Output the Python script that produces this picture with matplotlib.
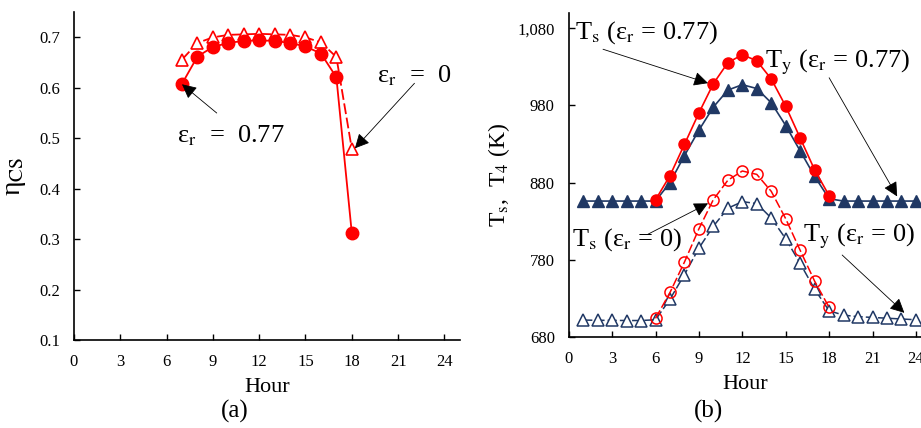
import numpy as np
import matplotlib
matplotlib.use("Agg")
from matplotlib import pyplot as plt
from matplotlib.ticker import FuncFormatter

plt.rcParams['font.family'] = ['Liberation Serif', 'DejaVu Serif']
plt.rcParams['mathtext.fontset'] = 'stix'

RED = '#FF0000'
NAVY = '#203864'

# panel (a): collector efficiency
hours_a = [7, 8, 9, 10, 11, 12, 13, 14, 15, 16, 17, 18]
eta_077 = [0.608, 0.662, 0.681, 0.689, 0.693, 0.694, 0.693, 0.689, 0.682, 0.668, 0.621, 0.312]
eta_0 = [0.656, 0.689, 0.700, 0.705, 0.706, 0.707, 0.706, 0.705, 0.700, 0.690, 0.661, 0.479]

# panel (b): temperatures
hours_s = [6, 7, 8, 9, 10, 11, 12, 13, 14, 15, 16, 17, 18]
Ts_077 = [857.6, 889, 929.6, 970.4, 1008.4, 1035.6, 1045.9, 1038, 1014.4, 979, 937.7, 896.4, 863]
Ts_0 = [703.8, 737.4, 776.9, 820, 858, 883, 895, 890.6, 868.6, 833, 792, 752, 718]
hours_y = list(range(1, 25))
Ty_077 = [856, 856, 856, 856, 856, 856, 880, 915, 948, 978, 1000, 1007, 1002, 983.5, 954,
          921, 888, 859, 856, 856, 856, 856, 856, 856]
Ty_0 = [701.6, 701.3, 701.2, 701, 701, 702, 728.7, 760.6, 795, 823.4, 846.7, 855.3, 852.7,
        834, 807, 775, 741.6, 713.6, 708, 706, 705, 704, 703, 702]

fig = plt.figure(figsize=(9.21, 4.28), dpi=100)
ax1 = fig.add_axes([0.0803, 0.2056, 0.419, 0.766])
ax2 = fig.add_axes([0.6175, 0.2133, 0.3825, 0.7563])

arrow = dict(arrowstyle='-|>', color='black', lw=0.6, mutation_scale=22, shrinkA=0, shrinkB=0)
EPS = 'ε$_\\mathrm{r}$'

# ---- (a)
ax1.plot(hours_a, eta_0, color=RED, ls=(0, (6, 2)), lw=1.3, marker='^', ms=9,
         mfc='white', mec=RED, mew=1.2)
ax1.plot(hours_a, eta_077, color=RED, lw=1.3, marker='o', ms=9, mfc=RED, mec=RED)
ax1.set_xlim(0, 25)
ax1.set_ylim(0.1, 0.75)
ax1.set_xticks(range(0, 25, 3))
ax1.set_yticks([0.1, 0.2, 0.3, 0.4, 0.5, 0.6, 0.7])
ax1.set_ylabel('η$_\\mathrm{CS}$', fontsize=20, labelpad=8)
ax1.set_xlabel('Hour', fontsize=16, labelpad=6)
ax1.text(6.7, 0.506, EPS + '  =  0.77', fontsize=19, ha='left', va='center')
ax1.annotate('', xy=(7.0, 0.607), xytext=(9.25, 0.55), arrowprops=arrow)
ax1.text(19.6, 0.625, EPS + '  =  0', fontsize=19, ha='left', va='center')
ax1.annotate('', xy=(18.2, 0.48), xytext=(22.06, 0.609), arrowprops=arrow)
ax1.text(0.255, 0.012, '(a)', transform=fig.transFigure, fontsize=18, ha='center', va='bottom')

# ---- (b)
ax2.plot(hours_y, Ty_077, color=NAVY, lw=1.2, marker='^', ms=8, mfc=NAVY, mec=NAVY)
ax2.plot(hours_s, Ts_077, color=RED, lw=1.2, marker='o', ms=8, mfc=RED, mec=RED)
ax2.plot(hours_y, Ty_0, color=NAVY, ls=(0, (6, 2)), lw=1.1, marker='^', ms=8,
         mfc='white', mec=NAVY, mew=1.1)
ax2.plot(hours_s, Ts_0, color=RED, ls=(0, (6, 2)), lw=1.1, marker='o', ms=8,
         mfc='none', mec=RED, mew=1.1)
ax2.set_xlim(0, 24.35)
ax2.set_ylim(680, 1100)
ax2.set_xticks(range(0, 25, 3))
ax2.set_yticks([680, 780, 880, 980, 1080])
ax2.yaxis.set_major_formatter(FuncFormatter(lambda v, p: '{:,.0f}'.format(v)))
ax2.set_ylabel('T$_\\mathrm{s}$,  T$_\\mathrm{4}$ (K)', fontsize=17, labelpad=4)
ax2.set_xlabel('Hour', fontsize=16, labelpad=6)

ax2.text(0.4, 1075, 'T$_\\mathrm{s}$ (' + EPS + ' = 0.77)', fontsize=19, ha='left', va='center')
ax2.annotate('', xy=(9.63, 1009), xytext=(2.37, 1053), arrowprops=arrow)
ax2.text(13.6, 1036, 'T$_\\mathrm{y}$ (' + EPS + ' = 0.77)', fontsize=19, ha='left', va='center')
ax2.annotate('', xy=(22.7, 862), xytext=(18.0, 1016), arrowprops=arrow)
ax2.text(0.2, 806, 'T$_\\mathrm{s}$ (' + EPS + ' = 0)', fontsize=19, ha='left', va='center')
ax2.annotate('', xy=(9.63, 853), xytext=(5.48, 813), arrowprops=arrow)
ax2.text(16.2, 810, 'T$_\\mathrm{y}$ (' + EPS + ' = 0)', fontsize=19, ha='left', va='center')
ax2.annotate('', xy=(23.2, 711), xytext=(18.9, 786), arrowprops=arrow)
ax2.text(0.769, 0.012, '(b)', transform=fig.transFigure, fontsize=18, ha='center', va='bottom')

for ax in (ax1, ax2):
    ax.spines['top'].set_visible(False)
    ax.spines['right'].set_visible(False)
    ax.spines['left'].set_linewidth(1.2)
    ax.spines['bottom'].set_linewidth(1.2)
    ax.tick_params(direction='in', length=4, width=1, labelsize=12, pad=10)

fig.savefig('out.png', dpi=100)
